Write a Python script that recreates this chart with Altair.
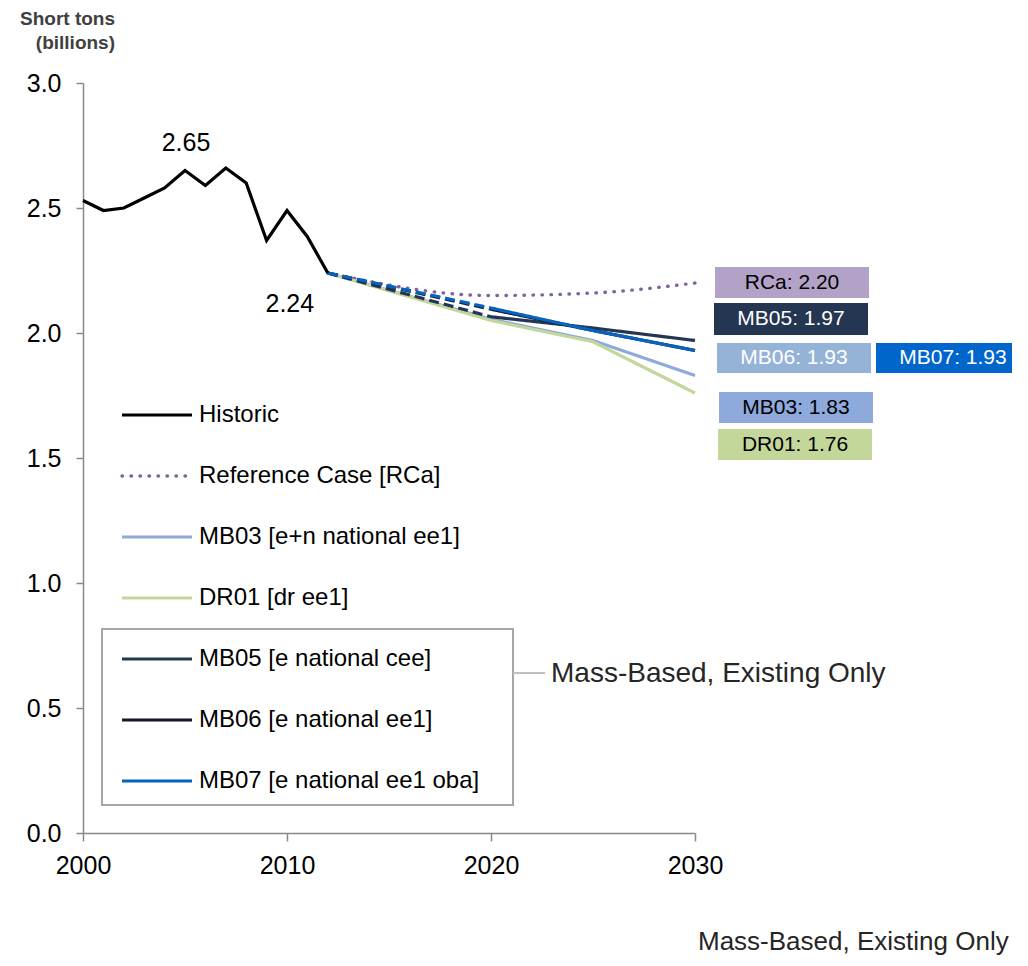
import altair as alt
import pandas as pd

# ---------------- data ----------------
hist_years = list(range(2000, 2013))
hist_vals = [2.53, 2.49, 2.50, 2.54, 2.58, 2.65, 2.59, 2.66, 2.60, 2.37, 2.49, 2.385, 2.24]

proj_years = [2012, 2020, 2025, 2030]
rca_vals = [2.24, 2.15, 2.16, 2.20]
mb03_vals = [2.24, 2.055, 1.97, 1.83]
dr01_vals = [2.24, 2.05, 1.965, 1.76]
mb05_vals = [2.24, 2.065, 2.02, 1.97]
mb06_vals = [2.24, 2.095, 2.01, 1.93]
mb07_vals = [2.24, 2.10, 2.01, 1.93]

series_codes = ["RCa", "MB05", "MB06", "MB07", "MB03", "DR01"]
legend_labels = ["Historic", "Reference Case [RCa]", "MB03 [e+n national ee1]",
                 "DR01 [dr ee1]", "MB05 [e national cee]", "MB06 [e national ee1]",
                 "MB07 [e national ee1 oba]"]
group_label = "Mass-Based, Existing Only"
y_title = ["Short tons", "(billions)"]
x_ticks = [2000, 2010, 2020, 2030]
y_ticks = [0.0, 0.5, 1.0, 1.5, 2.0, 2.5, 3.0]

# ---------------- style ----------------
COL = {"Historic": "#000000", "RCa": "#8064A2", "MB03": "#8EA9DB", "DR01": "#C4D79B",
       "MB05": "#243652", "MB06": "#111927", "MB07": "#0563C1"}
BOX_FILL = {"RCa": "#B3A2C7", "MB05": "#243652", "MB06": "#95B3D7", "MB07": "#0066CC",
            "MB03": "#8EA9DB", "DR01": "#C4D79B"}
BOX_TEXT = {"RCa": "#000000", "MB05": "#FFFFFF", "MB06": "#FFFFFF", "MB07": "#FFFFFF",
            "MB03": "#000000", "DR01": "#000000"}
FONT = "Liberation Sans"

# layout (pixels in the page) -> data units
X0, W = 83, 612
Y0, H = 83, 750
def px2x(px):
    return 2000 + (px - X0) / W * 30
def py2y(py):
    return (Y0 + H - py) / H * 3

xs = alt.Scale(domain=[2000, 2030], nice=False, zero=False)
ys = alt.Scale(domain=[0, 3], nice=False, zero=True)
xax = alt.Axis(values=x_ticks, format="d", title=None, grid=False, labelFontSize=25,
               labelColor="#000000", domainColor="#888888", tickColor="#888888",
               domainWidth=1.5, tickWidth=1.5, tickSize=8, labelPadding=12, labelFont=FONT,
               labelFlush=False)
yax = alt.Axis(values=y_ticks, format=".1f", title=None, grid=False, labelFontSize=25,
               labelColor="#000000", domainColor="#888888", tickColor="#888888",
               domainWidth=1.5, tickWidth=1.5, tickSize=7, labelPadding=15, labelFont=FONT,
               labelFlush=False)
X = lambda f="x": alt.X(f"{f}:Q", scale=xs, axis=xax)
Y = lambda f="y": alt.Y(f"{f}:Q", scale=ys, axis=yax)

layers = []

# Reference case dotted
rca_df = pd.DataFrame({"x": proj_years, "y": rca_vals})
layers.append(alt.Chart(rca_df).mark_line(color=COL["RCa"], strokeWidth=3.4, strokeDash=[0.5, 8.5],
                                          strokeCap="round", interpolate="monotone")
              .encode(x=X(), y=Y()))

# solid projections (MB03 under DR01)
for code, vals in [("MB03", mb03_vals), ("DR01", dr01_vals)]:
    df = pd.DataFrame({"x": proj_years, "y": vals})
    layers.append(alt.Chart(df).mark_line(color=COL[code], strokeWidth=3.2).encode(x=X(), y=Y()))

# dashed-then-solid projections
for code, vals in [("MB05", mb05_vals), ("MB06", mb06_vals), ("MB07", mb07_vals)]:
    rows = []
    for i, (yr, v) in enumerate(zip(proj_years, vals)):
        if i <= 1:
            rows.append({"x": yr, "y": v, "seg": "dash"})
        if i >= 1:
            rows.append({"x": yr, "y": v, "seg": "solid"})
    df = pd.DataFrame(rows)
    layers.append(alt.Chart(df).mark_line(color=COL[code], strokeWidth=3.2).encode(
        x=X(), y=Y(), detail="seg:N",
        strokeDash=alt.StrokeDash("seg:N", scale=alt.Scale(domain=["solid", "dash"],
                                                          range=[[1, 0], [10, 5]]), legend=None)))

# historic
hist_df = pd.DataFrame({"x": hist_years, "y": hist_vals})
layers.append(alt.Chart(hist_df).mark_line(color=COL["Historic"], strokeWidth=3.2).encode(x=X(), y=Y()))

# peak / last annotations
ann_df = pd.DataFrame({"x": [hist_years[5], hist_years[-1]], "y": [hist_vals[5], hist_vals[-1]],
                       "t": [f"{hist_vals[5]:.2f}", f"{hist_vals[-1]:.2f}"]})
layers.append(alt.Chart(ann_df.iloc[[0]]).mark_text(fontSize=25, font=FONT, dx=1, dy=-28, color="#000000")
              .encode(x=X(), y=Y(), text="t:N"))
layers.append(alt.Chart(ann_df.iloc[[1]]).mark_text(fontSize=25, font=FONT, dx=-38, dy=31, color="#000000")
              .encode(x=X(), y=Y(), text="t:N"))

# end-value boxes
end_vals = {"RCa": rca_vals[-1], "MB05": mb05_vals[-1], "MB06": mb06_vals[-1],
            "MB07": mb07_vals[-1], "MB03": mb03_vals[-1], "DR01": dr01_vals[-1]}
box_px = {"RCa": (715, 267, 869, 298), "MB05": (714, 303, 868, 335),
          "MB06": (717, 343, 871, 373), "MB07": (876, 343, 1030, 373),
          "MB03": (719, 392, 873, 423), "DR01": (718, 429, 872, 460)}
brows = []
for code in series_codes:
    l, t, r, b = box_px[code]
    brows.append({"x": px2x(l), "x2": px2x(r), "y": py2y(t), "y2": py2y(b),
                  "cx": px2x((l + r) / 2), "cy": py2y((t + b) / 2),
                  "label": f"{code}: {end_vals[code]:.2f}",
                  "fill": BOX_FILL[code], "tcol": BOX_TEXT[code]})
box_df = pd.DataFrame(brows)
layers.append(alt.Chart(box_df).mark_rect().encode(
    x=X(), x2="x2:Q", y=Y(), y2="y2:Q", color=alt.Color("fill:N", scale=None)))
layers.append(alt.Chart(box_df).mark_text(fontSize=21, font=FONT).encode(
    x=X("cx"), y=Y("cy"), text="label:N", color=alt.Color("tcol:N", scale=None)))

# custom legend
leg_codes = ["Historic", "RCa", "MB03", "DR01", "MB05", "MB06", "MB07"]
lrows = []
for i, (code, lab) in enumerate(zip(leg_codes, legend_labels)):
    py = 415 + 61 * i
    lrows.append({"x": px2x(122), "x2": px2x(192), "y": py2y(py), "tx": px2x(199),
                  "label": lab, "col": COL[code], "dotted": code == "RCa"})
leg_df = pd.DataFrame(lrows)
layers.append(alt.Chart(leg_df[~leg_df.dotted]).mark_rule(strokeWidth=3.2).encode(
    x=X(), x2="x2:Q", y=Y(), color=alt.Color("col:N", scale=None)))
layers.append(alt.Chart(leg_df[leg_df.dotted]).mark_rule(strokeWidth=3.4, strokeDash=[0.5, 8.5],
                                                         strokeCap="round").encode(
    x=X(), x2="x2:Q", y=Y(), color=alt.Color("col:N", scale=None)))
layers.append(alt.Chart(leg_df).mark_text(fontSize=24, font=FONT, align="left", color="#000000").encode(
    x=X("tx"), y=Y(), text="label:N"))

# group box + connector + label
grp_df = pd.DataFrame({"x": [px2x(102)], "x2": [px2x(513)], "y": [py2y(629)], "y2": [py2y(805)]})
layers.append(alt.Chart(grp_df).mark_rect(filled=False, stroke="#A6A6A6", strokeWidth=2).encode(
    x=X(), x2="x2:Q", y=Y(), y2="y2:Q"))
con_df = pd.DataFrame({"x": [px2x(513)], "x2": [px2x(545)], "y": [py2y(673)]})
layers.append(alt.Chart(con_df).mark_rule(stroke="#BFBFBF", strokeWidth=2).encode(
    x=X(), x2="x2:Q", y=Y()))
gl1 = pd.DataFrame({"x": [px2x(551)], "y": [py2y(674)], "t": [group_label]})
layers.append(alt.Chart(gl1).mark_text(fontSize=28, font=FONT, align="left", color="#262626").encode(
    x=X(), y=Y(), text="t:N"))
gl2 = pd.DataFrame({"x": [px2x(698)], "y": [py2y(942)], "t": [group_label]})
layers.append(alt.Chart(gl2).mark_text(fontSize=26, font=FONT, align="left", color="#262626").encode(
    x=X(), y=Y(), text="t:N"))

# y title
yt_df = pd.DataFrame({"x": [px2x(115), px2x(115)], "y": [py2y(19), py2y(43)], "t": y_title})
layers.append(alt.Chart(yt_df).mark_text(fontSize=19, font=FONT, fontWeight="bold", align="right",
                                         color="#404040").encode(x=X(), y=Y(), text="t:N"))

chart = alt.layer(*layers).properties(
    width=W, height=H,
    autosize=alt.AutoSizeParams(type="none"),
    padding={"left": X0 - 8, "top": Y0 - 8, "right": 1020 - 8 - X0 - W, "bottom": 950 - (Y0 - 8) - H},
).configure(font=FONT).configure_view(stroke=None, strokeWidth=0)

chart.save("out.html", embed_options={"renderer": "svg", "actions": False})
